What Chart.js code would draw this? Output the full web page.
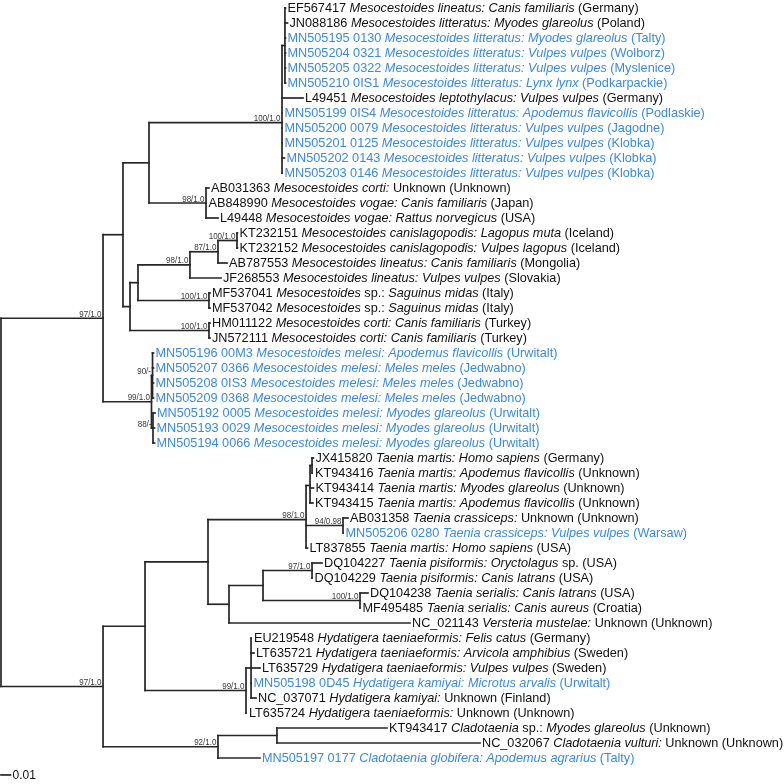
<!DOCTYPE html>
<html>
<head>
<meta charset="utf-8">
<script src="https://cdn.jsdelivr.net/npm/chart.js@4/dist/chart.umd.min.js"></script>
<style>
html,body{margin:0;padding:0;background:#fff;}
#wrap{width:784px;height:784px;}
</style>
</head>
<body>
<div id="wrap"><canvas id="c" width="784" height="784"></canvas></div>
<script>
// ---- Leaf labels (text between * * is italic) ----
const leafLabels = [
"EF567417 *Mesocestoides lineatus: Canis familiaris* (Germany)",
"JN088186 *Mesocestoides litteratus: Myodes glareolus* (Poland)",
"MN505195 0130 *Mesocestoides litteratus: Myodes glareolus* (Talty)",
"MN505204 0321 *Mesocestoides litteratus: Vulpes vulpes* (Wolborz)",
"MN505205 0322 *Mesocestoides litteratus: Vulpes vulpes* (Myslenice)",
"MN505210 0IS1 *Mesocestoides litteratus: Lynx lynx* (Podkarpackie)",
"L49451 *Mesocestoides leptothylacus: Vulpes vulpes* (Germany)",
"MN505199 0IS4 *Mesocestoides litteratus: Apodemus flavicollis* (Podlaskie)",
"MN505200 0079 *Mesocestoides litteratus: Vulpes vulpes* (Jagodne)",
"MN505201 0125 *Mesocestoides litteratus: Vulpes vulpes* (Klobka)",
"MN505202 0143 *Mesocestoides litteratus: Vulpes vulpes* (Klobka)",
"MN505203 0146 *Mesocestoides litteratus: Vulpes vulpes* (Klobka)",
"AB031363 *Mesocestoides corti:* Unknown (Unknown)",
"AB848990 *Mesocestoides vogae: Canis familiaris* (Japan)",
"L49448 *Mesocestoides vogae: Rattus norvegicus* (USA)",
"KT232151 *Mesocestoides canislagopodis: Lagopus muta* (Iceland)",
"KT232152 *Mesocestoides canislagopodis: Vulpes lagopus* (Iceland)",
"AB787553 *Mesocestoides lineatus: Canis familiaris* (Mongolia)",
"JF268553 *Mesocestoides lineatus: Vulpes vulpes* (Slovakia)",
"MF537041 *Mesocestoides* sp.: *Saguinus midas* (Italy)",
"MF537042 *Mesocestoides* sp.: *Saguinus midas* (Italy)",
"HM011122 *Mesocestoides corti: Canis familiaris* (Turkey)",
"JN572111 *Mesocestoides corti: Canis familiaris* (Turkey)",
"MN505196 00M3 *Mesocestoides melesi: Apodemus flavicollis* (Urwitalt)",
"MN505207 0366 *Mesocestoides melesi: Meles meles* (Jedwabno)",
"MN505208 0IS3 *Mesocestoides melesi: Meles meles* (Jedwabno)",
"MN505209 0368 *Mesocestoides melesi: Meles meles* (Jedwabno)",
"MN505192 0005 *Mesocestoides melesi: Myodes glareolus* (Urwitalt)",
"MN505193 0029 *Mesocestoides melesi: Myodes glareolus* (Urwitalt)",
"MN505194 0066 *Mesocestoides melesi: Myodes glareolus* (Urwitalt)",
"JX415820 *Taenia martis: Homo sapiens* (Germany)",
"KT943416 *Taenia martis: Apodemus flavicollis* (Unknown)",
"KT943414 *Taenia martis: Myodes glareolus* (Unknown)",
"KT943415 *Taenia martis: Apodemus flavicollis* (Unknown)",
"AB031358 *Taenia crassiceps:* Unknown (Unknown)",
"MN505206 0280 *Taenia crassiceps: Vulpes vulpes* (Warsaw)",
"LT837855 *Taenia martis: Homo sapiens* (USA)",
"DQ104227 *Taenia pisiformis: Oryctolagus* sp. (USA)",
"DQ104229 *Taenia pisiformis: Canis latrans* (USA)",
"DQ104238 *Taenia serialis: Canis latrans* (USA)",
"MF495485 *Taenia serialis: Canis aureus* (Croatia)",
"NC_021143 *Versteria mustelae:* Unknown (Unknown)",
"EU219548 *Hydatigera taeniaeformis: Felis catus* (Germany)",
"LT635721 *Hydatigera taeniaeformis: Arvicola amphibius* (Sweden)",
"LT635729 *Hydatigera taeniaeformis: Vulpes vulpes* (Sweden)",
"MN505198 0D45 *Hydatigera kamiyai: Microtus arvalis* (Urwitalt)",
"NC_037071 *Hydatigera kamiyai:* Unknown (Finland)",
"LT635724 *Hydatigera taeniaeformis:* Unknown (Unknown)",
"KT943417 *Cladotaenia* sp.: *Myodes glareolus* (Unknown)",
"NC_032067 *Cladotaenia vulturi:* Unknown (Unknown)",
"MN505197 0177 *Cladotaenia globifera: Apodemus agrarius* (Talty)"
];
// New sequences (shown in blue)
const newSequences = [2,3,4,5,7,8,9,10,11,23,24,25,26,27,28,29,35,45,50];
// Distance from root of each leaf tip (substitutions/site)
const leafDepth = [
0.2995,0.3016,0.2995,0.2995,0.2995,0.2995,0.3179,0.2963,0.2963,0.2963,0.2984,0.2963,
0.2189,0.2163,0.2284,0.2489,0.2489,0.2379,0.2316,0.2200,0.2200,0.2200,0.2200,
0.1605,0.1605,0.1605,0.1605,0.1621,0.1616,0.1616,
0.3289,0.3284,0.3289,0.3284,0.3653,0.3605,0.3226,0.3379,0.3279,0.3863,0.3784,0.4305,
0.2642,0.2663,0.2726,0.2637,0.2684,0.2589,0.4063,0.5042,0.2726
];
// Parent node of each leaf
const leafParent = [
"S","S","S","S","S","S","L","L","L","L","L","L",
"CV","CV","CV","C100","C100","C87","C98","MF","MF","HM","HM",
"Me90","Me90","Me90","Me90","Me88","Me88","Me88",
"T1a","T1a","T1","T1","T94","T94","T98","P97","P97","P100","P100","Q",
"H1","H1","H1","H1","H1","H99","C1","C1","B2"
];
// Internal nodes
const nodeIds     = ["R","M","A","A1","L","S","CV","A2","A2a","C98","C87","C100","MF","HM","Me99","Me90","Me88","B","B1","B1a","T98","T1","T1a","T94","Q","P","P97","P100","H99","H1","B2","C1"];
const nodeParent  = [null,"R","M","A","A1","L","A1","A","A2","A2a","C98","C87","A2a","A2","M","Me99","Me99","R","B","B1","B1a","T98","T1","T98","B1a","Q","P","P","B1","H99","B","B2"];
const nodeDepth   = [0,0.1074,0.1284,0.1558,0.2958,0.2989,0.2158,0.1358,0.1442,0.1989,0.2284,0.2484,0.2189,0.2189,0.1584,0.1595,0.1600,0.1074,0.1516,0.2179,0.3211,0.3253,0.3274,0.3600,0.2400,0.2758,0.3274,0.3779,0.2579,0.2632,0.2284,0.2905];
const nodeSupport = ["","97/1.0","","","100/1.0","","98/1.0","","","98/1.0","87/1.0","100/1.0","100/1.0","100/1.0","99/1.0","90/-","88/-","97/1.0","","","98/1.0","","","94/0.98","","","97/1.0","100/1.0","99/1.0","","92/1.0",""];
// Scale bar
const scaleBarLength = 0.01;
const scaleBarLabel = "0.01";

// ---- build tree geometry ----
const idx = {}; nodeIds.forEach((n,i)=>idx[n]=i);
const children = nodeIds.map(()=>[]);
leafParent.forEach((p,i)=>children[idx[p]].push({leaf:true,i}));
nodeParent.forEach((p,i)=>{ if(p!==null) children[idx[p]].push({leaf:false,i}); });
const nodeY = new Array(nodeIds.length);
function yOf(c){ return c.leaf ? c.i : computeY(c.i); }
function computeY(n){
  if(nodeY[n]!==undefined) return nodeY[n];
  const ys = children[n].map(yOf);
  nodeY[n] = ys.reduce((a,b)=>a+b,0)/ys.length;
  return nodeY[n];
}
computeY(0);

const LINE = '#262626';
const datasets = [];
function seg(x1,y1,x2,y2){
  datasets.push({data:[{x:x1,y:y1},{x:x2,y:y2}],showLine:true,borderColor:LINE,borderWidth:1.7,
    pointRadius:0,pointHoverRadius:0,fill:false,borderCapStyle:'square',tension:0});
}
nodeIds.forEach((n,k)=>{
  const ys = children[k].map(yOf);
  seg(nodeDepth[k],Math.min(...ys),nodeDepth[k],Math.max(...ys));
  children[k].forEach(c=>{
    const d = c.leaf ? leafDepth[c.i] : nodeDepth[c.i];
    const y = yOf(c);
    if(d>nodeDepth[k]) seg(nodeDepth[k],y,d,y);
  });
});
const scaleY = 51.13;
seg(0,scaleY,scaleBarLength,scaleY);

const FONT = "'Liberation Sans', Arial, Helvetica, sans-serif";
const labelPlugin = {
  id:'treeLabels',
  afterDatasetsDraw(chart){
    const {ctx, scales:{x,y}} = chart;
    ctx.save();
    ctx.textBaseline='middle';
    ctx.textAlign='left';
    leafLabels.forEach((lab,i)=>{
      let px = x.getPixelForValue(leafDepth[i]) + 2;
      const py = y.getPixelForValue(i) + 0.5;
      ctx.fillStyle = newSequences.includes(i) ? '#3a8bdc' : '#111';
      lab.split('*').forEach((part,j)=>{
        if(!part) return;
        ctx.font = (j%2===1 ? 'italic ' : '') + '12.7px ' + FONT;
        ctx.fillText(part,px,py);
        px += ctx.measureText(part).width;
      });
    });
    // support values
    ctx.fillStyle='#3a3a3a';
    ctx.font='9.8px ' + FONT;
    ctx.textAlign='right';
    ctx.textBaseline='alphabetic';
    nodeSupport.forEach((s,k)=>{
      if(!s) return;
      const px = x.getPixelForValue(nodeDepth[k]) - 1.5;
      const py = y.getPixelForValue(nodeY[k]) - 1.5;
      ctx.save();
      ctx.translate(px,py);
      ctx.scale(0.82,1);
      ctx.fillText(s,0,0);
      ctx.restore();
    });
    // scale bar label
    ctx.fillStyle='#111';
    ctx.font='12px ' + FONT;
    ctx.textAlign='left';
    ctx.textBaseline='middle';
    ctx.fillText(scaleBarLabel, x.getPixelForValue(scaleBarLength)+2, y.getPixelForValue(scaleY)+0.5);
    ctx.restore();
  }
};

new Chart(document.getElementById('c'),{
  type:'scatter',
  data:{datasets},
  options:{
    responsive:false,animation:false,
    layout:{padding:0},
    plugins:{legend:{display:false},tooltip:{enabled:false}},
    scales:{
      x:{type:'linear',display:false,min:-1/950,max:-1/950+784/950},
      y:{type:'linear',display:false,reverse:true,min:-8/15,max:(784-8)/15}
    }
  },
  plugins:[labelPlugin]
});
</script>
</body>
</html>
